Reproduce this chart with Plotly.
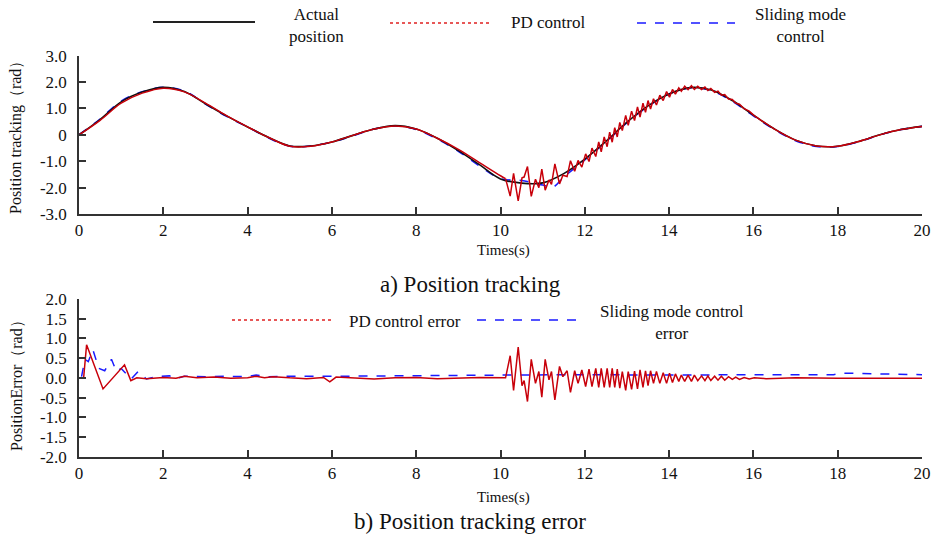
import plotly.graph_objects as go

# ---------------- data ----------------
time_s = [0, 0.5, 1, 1.5, 2, 2.5, 3, 3.5, 4, 4.5, 5, 5.5, 6, 6.5, 7, 7.5, 8, 8.5, 9, 9.5,
          10, 10.5, 11, 11.5, 12, 12.5, 13, 13.5, 14, 14.5, 15, 15.5, 16, 16.5, 17, 17.5,
          18, 18.5, 19, 19.5, 20]
actual_pos = [0, 0.58, 1.25, 1.62, 1.8, 1.64, 1.18, 0.72, 0.3, -0.1, -0.42, -0.42, -0.27, -0.02,
              0.22, 0.35, 0.22, -0.13, -0.6, -1.13, -1.67, -1.83, -1.82, -1.47, -0.92, -0.25,
              0.48, 1.1, 1.55, 1.79, 1.7, 1.3, 0.75, 0.22, -0.2, -0.42, -0.43, -0.25, 0.0, 0.2, 0.32]

smc_t = [0, 0.5, 1, 1.5, 2, 2.5, 3, 3.5, 4, 4.5, 5, 5.5, 6, 6.5, 7, 7.5, 8, 8.5, 9, 9.5,
         10, 10.5, 11, 11.25, 11.5, 12, 12.5, 13, 13.5, 14, 14.5, 15, 15.5, 16, 16.5, 17, 17.5,
         18, 18.5, 19, 19.5, 20]
smc_pos = [0, 0.6, 1.28, 1.63, 1.8, 1.66, 1.17, 0.7, 0.3, -0.12, -0.43, -0.42, -0.27, -0.04,
           0.22, 0.34, 0.2, -0.16, -0.62, -1.18, -1.66, -1.73, -1.9, -1.97, -1.6, -0.95, -0.27,
           0.46, 1.08, 1.55, 1.78, 1.68, 1.27, 0.72, 0.2, -0.22, -0.44, -0.44, -0.26, 0.0, 0.2, 0.32]

# PD control position: smooth part, oscillating part, smooth tail
pd_t_start = [0, 0.5, 1, 1.5, 2, 2.5, 3, 3.5, 4, 4.5, 5, 5.5, 6, 6.5, 7, 7.5, 8, 8.5, 9, 9.5, 10, 10.12]
pd_pos_start = [0, 0.55, 1.2, 1.58, 1.77, 1.63, 1.2, 0.73, 0.3, -0.1, -0.43, -0.43, -0.27, -0.02,
                0.22, 0.34, 0.22, -0.13, -0.55, -1.05, -1.55, -1.66]
pd_t_osc = [10.12, 10.23, 10.31, 10.42, 10.51, 10.56, 10.64, 10.73, 10.83, 10.91, 10.98, 11.06,
            11.15, 11.21, 11.29, 11.4, 11.48, 11.58, 11.66, 11.76, 11.84, 11.93, 12.02, 12.1,
            12.17, 12.26, 12.33, 12.39, 12.46, 12.53, 12.59, 12.65, 12.71, 12.77, 12.83, 12.89,
            12.97, 13.03, 13.11, 13.18, 13.25, 13.31, 13.38, 13.44, 13.5, 13.56, 13.63, 13.7,
            13.78, 13.86, 13.94, 14.01, 14.08, 14.15, 14.23, 14.29, 14.37, 14.45, 14.53, 14.6,
            14.68, 14.77, 14.85, 14.92, 14.99, 15.08, 15.16, 15.24, 15.32, 15.41, 15.5, 15.58,
            15.67, 15.78, 15.9, 16.02]
pd_pos_osc = [-1.66, -2.32, -1.46, -2.5, -1.63, -1.6, -1.2, -2.33, -1.68, -2.0, -1.3, -2.1,
              -1.71, -1.88, -1.1, -1.86, -1.53, -1.58, -0.98, -1.38, -0.97, -1.22, -0.72, -1.01,
              -0.5, -0.82, -0.27, -0.64, -0.08, -0.45, 0.1, -0.28, 0.27, -0.08, 0.47, 0.16,
              0.74, 0.36, 0.9, 0.54, 1.06, 0.67, 1.2, 0.85, 1.3, 0.98, 1.37, 1.13,
              1.5, 1.3, 1.64, 1.43, 1.72, 1.54, 1.78, 1.65, 1.84, 1.71, 1.86, 1.72,
              1.84, 1.72, 1.81, 1.68, 1.76, 1.61, 1.66, 1.5, 1.53, 1.36, 1.34, 1.2,
              1.16, 0.99, 0.9, 0.73]
pd_t_end = [16.02, 16.5, 17, 17.5, 18, 18.5, 19, 19.5, 20]
pd_pos_end = [0.73, 0.22, -0.2, -0.42, -0.43, -0.25, 0.0, 0.2, 0.32]

# Errors
pd_err_t = [0, 0.11, 0.18, 0.57, 1.08, 1.23, 1.37, 1.6, 2.0, 2.3, 2.5, 2.8, 3.2, 3.6, 4.0, 4.2,
            4.4, 4.6, 5.0, 5.4, 5.8, 5.95, 6.1, 6.5, 7.0, 7.5, 8.0, 8.5, 9.0, 9.5, 10.12,
            10.23, 10.31, 10.42, 10.51, 10.56, 10.64, 10.73, 10.83, 10.91, 10.98, 11.06,
            11.15, 11.21, 11.29, 11.4, 11.48, 11.58, 11.66, 11.76, 11.84, 11.93, 12.02, 12.1,
            12.17, 12.26, 12.33, 12.39, 12.46, 12.53, 12.59, 12.65, 12.71, 12.77, 12.83, 12.89,
            12.97, 13.03, 13.11, 13.18, 13.25, 13.31, 13.38, 13.44, 13.5, 13.56, 13.63, 13.7,
            13.78, 13.86, 13.94, 14.01, 14.08, 14.15, 14.23, 14.29, 14.37, 14.45, 14.53, 14.6,
            14.68, 14.77, 14.85, 14.92, 14.99, 15.08, 15.16, 15.24, 15.32, 15.41, 15.5, 15.58,
            15.67, 15.78, 15.9, 16.02, 16.3, 17.0, 18.0, 19.0, 20.0]
pd_err = [0, 0, 0.84, -0.28, 0.33, -0.07, 0, -0.02, 0.01, -0.01, 0.04, 0.0, 0.02, -0.01, 0.0,
          0.04, 0.0, 0.03, 0.0, -0.02, 0.01, -0.1, 0.02, 0.0, -0.03, 0.0, 0.01, -0.02, 0.0, 0.01, 0,
          0.56, -0.32, 0.78, -0.2, -0.07, -0.6, 0.47, -0.14, 0.16, -0.49, 0.47,
          -0.05, 0.16, -0.56, 0.29, 0.03, 0.18, -0.37, 0.18, -0.14, 0.2, -0.22, 0.22,
          -0.22, 0.24, -0.24, 0.24, -0.24, 0.24, -0.24, 0.24, -0.24, 0.22, -0.26, 0.16,
          -0.32, 0.16, -0.29, 0.17, -0.28, 0.2, -0.24, 0.18, -0.2, 0.18, -0.14, 0.16,
          -0.14, 0.13, -0.14, 0.12, -0.12, 0.1, -0.09, 0.07, -0.09, 0.07, -0.09, 0.07,
          -0.07, 0.05, -0.07, 0.05, -0.07, 0.04, -0.06, 0.04, -0.06, 0.03, -0.04, 0.02,
          -0.04, 0.01, -0.03, 0.0, -0.02, 0.0, -0.01, -0.01, -0.01]

smc_err_t = [0.06, 0.14, 0.22, 0.33, 0.47, 0.61, 0.77, 0.89, 1.0, 1.24, 1.4, 1.6, 1.85, 2.15,
             2.3, 2.5, 3.0, 3.5, 4.0, 4.2, 4.5, 5.0, 6.0, 7.0, 8.0, 9.0, 10.0, 12.0, 14.0, 16.0,
             17.9, 18.1, 19.0, 20.0]
smc_err = [0.03, 0.47, 0.41, 0.71, 0.24, 0.18, 0.47, 0.16, 0.24, -0.03, 0.16, -0.03, 0.03, 0.05,
           -0.02, 0.04, 0.03, 0.04, 0.03, 0.07, 0.03, 0.04, 0.04, 0.05, 0.05, 0.06, 0.07, 0.08,
           0.07, 0.08, 0.08, 0.12, 0.1, 0.08]

x_ticks = [0, 2, 4, 6, 8, 10, 12, 14, 16, 18, 20]
top_y_ticks = [3, 2, 1, 0, -1, -2, -3]
top_y_labels = ["3.0", "2.0", "1.0", "0", "-1.0", "-2.0", "-3.0"]
bot_y_ticks = [2, 1.5, 1, 0.5, 0, -0.5, -1, -1.5, -2]
bot_y_labels = ["2.0", "1.5", "1.0", "0.5", "0.0", "-0.5", "-1.0", "-1.5", "-2.0"]

# ---------------- figure ----------------
W, H = 941, 534
L, R = 79, 19
FONT = "Liberation Serif, Times New Roman, serif"
BLACK = "#111111"
RED = "#c8000a"
BLUE = "#1a1aff"


def px(x):
    return (x - L) / (W - L - R)


def py(y):
    return 1 - y / H


fig = go.Figure()

# top panel
fig.add_trace(go.Scatter(x=smc_t, y=smc_pos, mode="lines", line=dict(color=BLUE, width=1.6, dash="dash", shape="spline"),
                         xaxis="x", yaxis="y", showlegend=False))
fig.add_trace(go.Scatter(x=time_s, y=actual_pos, mode="lines", line=dict(color=BLACK, width=1.6, shape="spline"),
                         xaxis="x", yaxis="y", showlegend=False))
fig.add_trace(go.Scatter(x=pd_t_start, y=pd_pos_start, mode="lines", line=dict(color=RED, width=1.5, shape="spline"),
                         xaxis="x", yaxis="y", showlegend=False))
fig.add_trace(go.Scatter(x=pd_t_osc, y=pd_pos_osc, mode="lines", line=dict(color=RED, width=1.5),
                         xaxis="x", yaxis="y", showlegend=False))
fig.add_trace(go.Scatter(x=pd_t_end, y=pd_pos_end, mode="lines", line=dict(color=RED, width=1.5, shape="spline"),
                         xaxis="x", yaxis="y", showlegend=False))

# bottom panel
fig.add_trace(go.Scatter(x=smc_err_t, y=smc_err, mode="lines", line=dict(color=BLUE, width=1.5, dash="dash"),
                         xaxis="x2", yaxis="y2", showlegend=False))
fig.add_trace(go.Scatter(x=pd_err_t, y=pd_err, mode="lines", line=dict(color=RED, width=1.5),
                         xaxis="x2", yaxis="y2", showlegend=False))

axis_common = dict(showline=True, linecolor="#333333", linewidth=1.5, ticks="inside", ticklen=7,
                   tickcolor="#333333", tickwidth=1.5, showgrid=False, zeroline=False, automargin=False,
                   tickfont=dict(family=FONT, size=17, color="#111111"))

fig.update_layout(
    width=W, height=H,
    margin=dict(l=L, r=R, t=0, b=0, autoexpand=False),
    paper_bgcolor="white", plot_bgcolor="white",
    showlegend=False,
    xaxis=dict(domain=[0, 1], range=[0, 20], tickvals=x_ticks, anchor="y", ticklabelstandoff=0, **axis_common),
    yaxis=dict(domain=[py(214), py(55.7)], range=[-3, 3], tickvals=top_y_ticks, ticktext=top_y_labels,
               anchor="x", ticklabelstandoff=7, **axis_common),
    xaxis2=dict(domain=[0, 1], range=[0, 20], tickvals=x_ticks, anchor="y2", ticklabelstandoff=0, **axis_common),
    yaxis2=dict(domain=[py(456.7), py(299)], range=[-2, 2], tickvals=bot_y_ticks, ticktext=bot_y_labels,
                anchor="x2", ticklabelstandoff=7, **axis_common),
)

annots = []
shapes = []


def text(x, y, s, size=17, angle=0):
    annots.append(dict(x=px(x), y=py(y), xref="paper", yref="paper", text=s, showarrow=False,
                       textangle=angle, xanchor="center", yanchor="middle",
                       font=dict(family=FONT, size=size, color="#111111")))


def seg(x0, x1, y, color, dash, width=1.6):
    shapes.append(dict(type="line", xref="paper", yref="paper", x0=px(x0), x1=px(x1), y0=py(y), y1=py(y),
                       line=dict(color=color, width=width, dash=dash)))


# top legend
seg(153, 255, 22, "#222222", "solid", 2)
text(316, 25, "Actual<br>position", 17)
seg(390, 490, 23, "#e02020", "dot", 1.4)
text(548, 23, "PD control", 17)
seg(637, 735, 23, BLUE, "dash", 1.6)
text(800, 25, "Sliding mode<br>control", 17)

# bottom legend
seg(232, 333, 320, "#e02020", "dot", 1.4)
text(405, 321, "PD control error", 17)
seg(477, 577, 320, BLUE, "dash", 1.6)
text(672, 322, "Sliding mode control<br>error", 17)

# axis titles and captions
text(503, 250, "Times(s)", 15)
text(470, 284, "a) Position tracking", 23)
text(503, 497, "Times(s)", 15)
text(470, 521, "b) Position tracking error", 23)
text(16, 134, "Position tracking（rad）", 16, -90)
text(16, 382, "PositionError（rad）", 16, -90)

fig.update_layout(annotations=annots, shapes=shapes)

fig.write_html("out.html", config={"displayModeBar": False},
               post_script="document.body.style.margin='0px';document.body.style.padding='0px';")
